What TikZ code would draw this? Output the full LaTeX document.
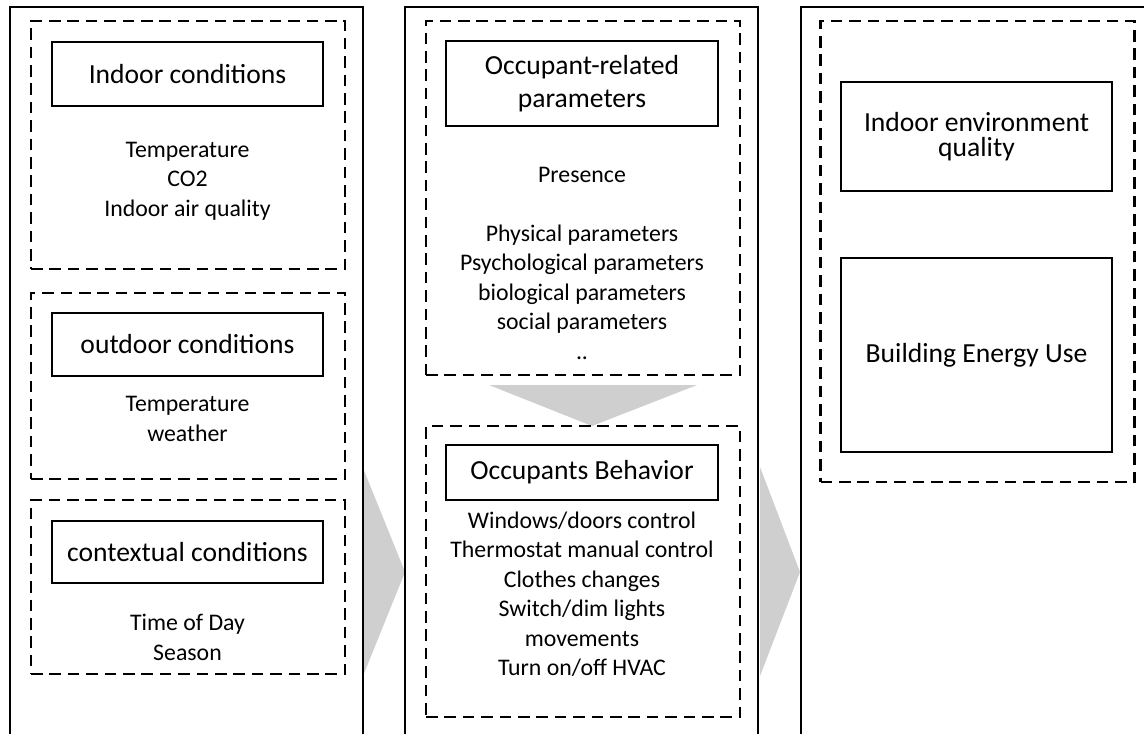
\documentclass[tikz,border=0pt]{standalone}
\usepackage{fontspec}
\setmainfont{Carlito}

\tikzset{
	titlebox/.style={draw, line width=1.1pt, align=center, inner sep=0pt, minimum width=135.5pt, font=\fontsize{13.8}{16.5}\selectfont},
	itemlist/.style={align=center, inner sep=0pt, font=\fontsize{11.9}{14.75}\selectfont},
	groupbox/.style={draw, line width=1.3pt, dash pattern=on 5.8pt off 3.4pt, inner sep=0pt, minimum width=157pt},
	panel/.style={line width=1.2pt},
	chevron/.style={fill=black!19, draw=none}
}

\begin{document}
\begin{tikzpicture}[x=0.5pt, y=-0.5pt]

	\useasboundingbox[fill=white] (0, 0) rectangle (1144, 733);

	\def\t{7} % haut des panneaux
	\def\b{740} % bas (hors image)

	% fleches grises
	\fill[chevron] (363, 468) -- (405, 572) -- (363, 676) -- cycle;
	\fill[chevron] (760, 467) -- (800, 572) -- (760, 676) -- cycle;
	\fill[chevron] (489, 385) -- (697, 385) -- (592, 426) -- cycle;

	% panneaux
	\draw[panel] (10, \b) -- (10, \t) -- (363, \t) -- (363, \b);
	\draw[panel] (405, \b) -- (405, \t) -- (758, \t) -- (758, \b);
	\draw[panel] (801, \b) -- (801, \t) -- (1150, \t);

	% conditions
	\node[groupbox, minimum height=124pt] (indoorgrp) at (188, 145) {};
	\node[titlebox, minimum height=32pt] (indoor) at (187.5, 74) {Indoor conditions};
	\node[itemlist] (indoorlist) at (187.5, 181) {Temperature\\CO2\\Indoor air quality};

	\node[groupbox, minimum height=93pt] (outdoorgrp) at (188, 386) {};
	\node[titlebox, minimum height=31.5pt] (outdoor) at (187.5, 344.5) {outdoor conditions};
	\node[itemlist] (outdoorlist) at (187.5, 419) {Temperature\\weather};

	\node[groupbox, minimum height=87pt] (contextgrp) at (188, 587) {};
	\node[titlebox, minimum height=31pt] (context) at (187.5, 552) {contextual conditions};
	\node[itemlist] (contextlist) at (187.5, 637.5) {Time of Day\\Season};

	% occupants
	\node[groupbox, minimum height=177pt] (paramgrp) at (583, 198) {};
	\node[titlebox, minimum width=136pt, minimum height=42.5pt] (param) at (582, 83.5) {Occupant-related\\parameters};
	\node[itemlist] (paramlist) at (582, 263) {Presence\\[14.75pt]Physical parameters\\Psychological parameters\\biological parameters\\social parameters\\..};

	\node[groupbox, minimum height=145.5pt] (behavgrp) at (583, 571.5) {};
	\node[titlebox, minimum width=136pt, minimum height=27.5pt] (behav) at (582, 472.5) {Occupants Behavior};
	\node[itemlist] (behavlist) at (582, 594) {Windows/doors control\\Thermostat manual control\\Clothes changes\\Switch/dim lights\\movements\\Turn on/off HVAC};

	% resultats
	\node[groupbox, minimum height=230.5pt] (resultgrp) at (977.5, 251.5) {};
	\node[titlebox, minimum height=54.5pt, font=\fontsize{13.8}{12.5}\selectfont] (ieq) at (976.5, 136.5) {Indoor environment\\quality};
	\node[titlebox, minimum height=97pt] (energy) at (976.5, 355) {Building Energy Use};

\end{tikzpicture}
\end{document}
